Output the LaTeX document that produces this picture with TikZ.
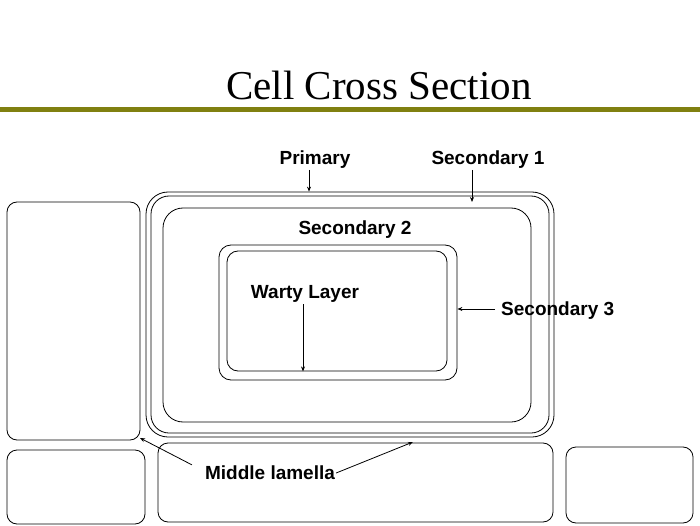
\documentclass[tikz,border=0pt]{standalone}
\usepackage{fontspec}
\setmainfont{Liberation Serif}
\newfontfamily\labelfont{Liberation Sans}
\usepackage{xcolor}
\usetikzlibrary{
    arrows.meta,
    positioning,
    calc
}
\definecolor{olivebar}{RGB}{128,128,16}

\begin{document}
\begin{tikzpicture}[
                x=1pt, y=1pt,
                wall/.style={draw, line width=0.8pt, inner sep=0pt},
                label/.style={font=\labelfont\bfseries\fontsize{19}{22}\selectfont, inner sep=1pt},
                arrow/.style={-{Stealth[length=5pt, width=4pt]}, line width=0.8pt}
            ]
                \useasboundingbox (0,0) rectangle (700,525);

                % Title and bar
                \node[anchor=base, font=\fontsize{41}{48}\selectfont] (title) at (379,425) {Cell Cross Section};
                \draw[olivebar, line width=5pt] (0,415) -- (700,415);

                % Main cell walls
                \node[wall, rounded corners=22pt, minimum width=408pt, minimum height=245pt] (outer) at (350,210.5) {};
                \node[wall, rounded corners=18pt, minimum width=398pt, minimum height=237pt] (prim) at (350,210.5) {};
                \node[wall, rounded corners=20pt, minimum width=368pt, minimum height=214pt] (sec2) at (347,210) {};
                \node[wall, rounded corners=12pt, minimum width=238pt, minimum height=135pt] (sec3) at (338,212.5) {};
                \node[wall, rounded corners=11pt, minimum width=220pt, minimum height=120pt] (warty) at (337,214) {};

                % Neighbouring cells
                \node[wall, rounded corners=10pt, minimum width=133pt, minimum height=238pt] (left) at (73.5,204) {};
                \node[wall, rounded corners=10pt, minimum width=138pt, minimum height=74pt] (lowleft) at (76,38) {};
                \node[wall, rounded corners=10pt, minimum width=395pt, minimum height=79pt] (lowmid) at (355.5,42.5) {};
                \node[wall, rounded corners=10pt, minimum width=127pt, minimum height=76pt] (lowright) at (629.5,40) {};

                % Labels
                \node[label] (primary) at (315,365) {Primary};
                \node[label] (secone) at (488,365) {Secondary 1};
                \node[label] (sectwo) at (355,295) {Secondary 2};
                \node[label] (wartylabel) at (305,231) {Warty Layer};
                \node[label, anchor=west] (secthree) at (500,214) {Secondary 3};
                \node[label] (lamella) at (270,52) {Middle lamella};

                % Arrow ends
                \coordinate (pa) at (309,355);
                \coordinate (sa) at (472,355);
                \coordinate (wa) at (303,221);
                \coordinate (sonend) at (472,323);
                \coordinate (sthree) at (495,216);
                \coordinate (lamleft) at (140,87);
                \coordinate (lamright) at (413,83);

                \draw[arrow] (pa) -- (pa |- outer.north);
                \draw[arrow] (sa) -- (sonend);
                \draw[arrow] (wa) -- (wa |- warty.south);
                \draw[arrow] (sthree) -- (sthree -| sec3.east);
                \draw[arrow] (lamella.north west) ++(-12,0) -- (lamleft);
                \draw[arrow] (lamella.east) -- (lamright);
            \end{tikzpicture}
\end{document}
